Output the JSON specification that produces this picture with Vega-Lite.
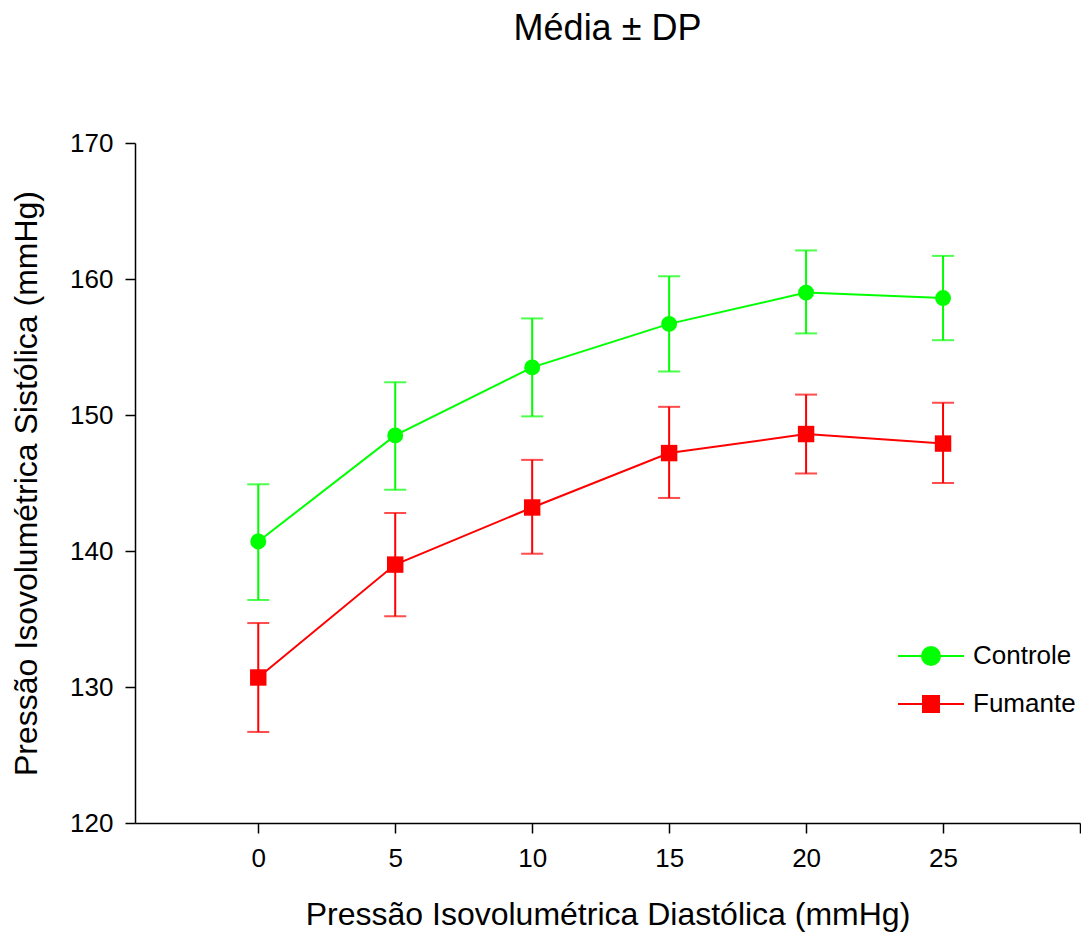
{
  "$schema": "https://vega.github.io/schema/vega-lite/v6.json",
  "autosize": "none",
  "width": 945,
  "height": 680,
  "padding": {"left": 135, "top": 143, "right": 1, "bottom": 116},
  "background": "white",
  "config": {
    "font": "Liberation Sans",
    "view": {"stroke": null},
    "axis": {"grid": false, "domainColor": "black", "domainWidth": 1.5, "tickColor": "black", "tickWidth": 1.5, "tickSize": 10, "labelColor": "black", "titleColor": "black", "labelFontSize": 26, "titleFontSize": 32, "titleFontWeight": "normal", "labelFont": "Liberation Sans", "titleFont": "Liberation Sans"}
  },
  "title": {"text": "Média ± DP", "fontSize": 36, "fontWeight": "normal", "font": "Liberation Sans", "color": "black", "anchor": "middle", "frame": "group", "baseline": "alphabetic", "offset": 54},
  "data": {"values": [
    {"x": 0, "series": "Controle", "mean": 140.7, "lo": 136.4, "hi": 144.9},
    {"x": 5, "series": "Controle", "mean": 148.5, "lo": 144.5, "hi": 152.4},
    {"x": 10, "series": "Controle", "mean": 153.5, "lo": 149.9, "hi": 157.1},
    {"x": 15, "series": "Controle", "mean": 156.7, "lo": 153.2, "hi": 160.2},
    {"x": 20, "series": "Controle", "mean": 159.0, "lo": 156.0, "hi": 162.1},
    {"x": 25, "series": "Controle", "mean": 158.6, "lo": 155.5, "hi": 161.7},
    {"x": 0, "series": "Fumante", "mean": 130.7, "lo": 126.7, "hi": 134.7},
    {"x": 5, "series": "Fumante", "mean": 139.0, "lo": 135.2, "hi": 142.8},
    {"x": 10, "series": "Fumante", "mean": 143.2, "lo": 139.8, "hi": 146.7},
    {"x": 15, "series": "Fumante", "mean": 147.2, "lo": 143.9, "hi": 150.6},
    {"x": 20, "series": "Fumante", "mean": 148.6, "lo": 145.7, "hi": 151.5},
    {"x": 25, "series": "Fumante", "mean": 147.9, "lo": 145.0, "hi": 150.9}
  ]},
  "encoding": {
    "x": {"field": "x", "type": "quantitative", "scale": {"domain": [-4.5, 30], "nice": false, "zero": false},
      "axis": {"values": [0, 5, 10, 15, 20, 25, 30], "labelExpr": "datum.value == 30 ? '' : datum.label", "title": "Pressão Isovolumétrica Diastólica (mmHg)", "labelPadding": 12, "titlePadding": 28}},
    "color": {"field": "series", "type": "nominal", "scale": {"domain": ["Controle", "Fumante"], "range": ["#00ff00", "#ff0000"]},
      "legend": {"title": null, "orient": "none", "legendX": 762, "legendY": 479, "labelFontSize": 26, "labelColor": "black", "labelOffset": 8, "symbolSize": 400, "rowPadding": 0,
        "encode": {"symbols": {"update": {
          "shape": {"signal": "datum.value === 'Controle' ? 'M-1,0H1M-0.273,0A0.273,0.273 0 1 1 0.273,0A0.273,0.273 0 1 1 -0.273,0Z' : 'M-1,0H1M-0.242,-0.242H0.242V0.242H-0.242Z'"},
          "stroke": {"signal": "scale('color', datum.value)"},
          "fill": {"signal": "scale('color', datum.value)"},
          "strokeWidth": {"value": 2},
          "opacity": {"value": 1},
          "fillOpacity": {"value": 1},
          "size": {"value": 4356}
        }}}}}
  },
  "layer": [
    {"mark": {"type": "rule", "strokeWidth": 2},
     "encoding": {"y": {"field": "lo", "type": "quantitative", "scale": {"domain": [120, 170], "nice": false, "zero": false},
         "axis": {"values": [120, 130, 140, 150, 160, 170], "title": "Pressão Isovolumétrica Sistólica (mmHg)", "labelPadding": 12, "titlePadding": 26}}, "y2": {"field": "hi"}}},
    {"mark": {"type": "tick", "orient": "horizontal", "size": 22, "thickness": 2},
     "encoding": {"y": {"field": "lo", "type": "quantitative"}}},
    {"mark": {"type": "tick", "orient": "horizontal", "size": 22, "thickness": 2},
     "encoding": {"y": {"field": "hi", "type": "quantitative"}}},
    {"mark": {"type": "line", "strokeWidth": 2},
     "encoding": {"y": {"field": "mean", "type": "quantitative"}}},
    {"transform": [{"filter": "datum.series === 'Controle'"}],
     "mark": {"type": "point", "shape": "circle", "filled": true, "opacity": 1, "size": 254},
     "encoding": {"y": {"field": "mean", "type": "quantitative"}}},
    {"transform": [{"filter": "datum.series === 'Fumante'"}],
     "mark": {"type": "point", "shape": "square", "filled": true, "opacity": 1, "size": 270},
     "encoding": {"y": {"field": "mean", "type": "quantitative"}}}
  ]
}
